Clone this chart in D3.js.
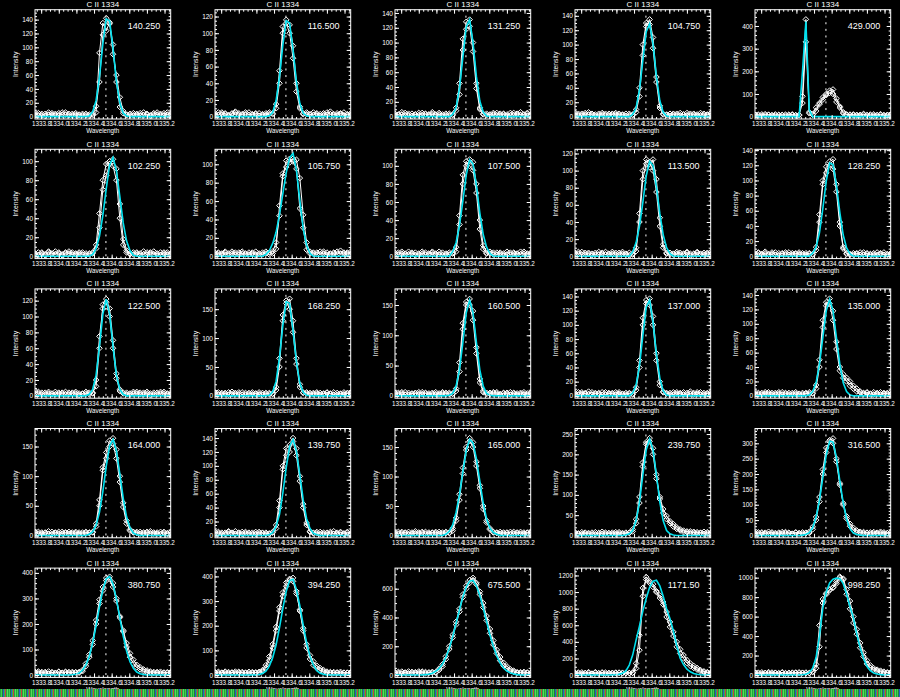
<!DOCTYPE html>
<html><head><meta charset="utf-8">
<script src="https://cdnjs.cloudflare.com/ajax/libs/d3/7.8.5/d3.min.js"></script>
<style>html,body{margin:0;padding:0;background:#000;}svg{display:block;}</style>
</head><body>
<svg id="chart" width="900" height="697"></svg>
<script>
const panelTitle = "C II 1334";
const xLabel = "Wavelength";
const yLabel = "Intensity";
const restWavelength = 1334.535;
const xDomain = [1333.73, 1335.27];
const xTickValues = [1333.8, 1334.0, 1334.2, 1334.4, 1334.6, 1334.8, 1335.0, 1335.2];
const xTickLabels = ["1333.8", "1334.0", "1334.2", "1334.4", "1334.6", "1334.8", "1335.0", "1335.2"];
const xMinorStep = 0.05;

const wavelengths = [1333.7300,1333.7685,1333.8070,1333.8455,1333.8840,1333.9225,1333.9610,1333.9995,1334.0380,1334.0765,
 1334.1150,1334.1535,1334.1920,1334.2305,1334.2690,1334.3075,1334.3460,1334.3845,1334.4230,1334.4615,
 1334.5000,1334.5385,1334.5770,1334.6155,1334.6540,1334.6925,1334.7310,1334.7695,1334.8080,1334.8465,
 1334.8850,1334.9235,1334.9620,1335.0005,1335.0390,1335.0775,1335.1160,1335.1545,1335.1930,1335.2315,1335.2700];

const peakLabels = ["140.250","116.500","131.250","104.750","429.000",
 "102.250","105.750","107.500","113.500","128.250",
 "122.500","168.250","160.500","137.000","135.000",
 "164.000","139.750","165.000","239.750","316.500",
 "380.750","394.250","675.500","1171.50","998.250"];

const yAxisMax = [154.3,128.2,144.4,148.5,471.9,
 112.5,116.3,118.3,124.9,141.1,
 134.8,185.1,176.6,150.7,148.5,
 180.4,153.7,181.5,263.7,348.2,
 418.8,433.7,743.1,1288.7,1098.1];

const yTickSteps = [20,20,20,20,100, 20,20,20,20,20, 20,50,50,20,20, 50,20,50,50,50, 100,100,200,200,200];
const yMinorSteps = [5,5,5,5,20, 5,5,5,5,5, 5,10,10,5,5, 10,5,10,10,10, 20,20,50,50,50];

// first observed spectrum of each panel
const observed = [
[3,5,2,4,6,3,2,5,3,6, 2,4,3,2,2,4,1,4,15,50, 118,142,134,104,50,14,5,2,4,2, 3,5,2,4,1,3,6,2,5,3, 4],
[4,2,5,3,1,4,6,2,3,5, 2,3,4,1,3,2,5,3,10,40, 100,116,110,85,40,12,4,3,2,5, 3,1,4,2,6,3,2,4,1,3, 2],
[2,3,6,2,4,1,3,5,2,4, 3,6,2,3,1,4,2,3,8,30, 90,128,131,100,45,12,4,2,3,5, 2,4,3,1,5,2,3,6,2,4, 3],
[5,2,4,3,6,2,1,4,3,2, 4,3,5,2,3,1,4,2,6,28, 85,125,135,110,55,15,4,3,1,4, 2,5,3,2,4,3,1,5,2,3, 4],
[6,9,4,11,7,5,10,6,8,4, 9,7,5,6,90,429,20,10,40,55, 85,100,115,120,80,40,15,8,6,10, 5,8,12,6,9,4,7,11,5,8, 6],
[3,1,4,2,5,3,2,4,1,3, 5,2,3,4,2,1,3,3,8,30, 70,85,97,102,92,55,18,6,2,4, 3,1,5,2,4,2,3,1,4,2, 3],
[2,4,3,5,1,3,4,2,5,3, 2,4,1,3,2,5,2,3,8,55, 90,97,102,106,105,85,45,15,5,3, 4,2,5,1,3,4,2,6,3,4, 2],
[4,2,5,3,2,4,1,3,5,2, 3,4,2,5,1,3,2,4,5,35, 80,100,107,104,80,40,12,4,3,2, 4,3,1,5,2,4,3,2,5,3, 4],
[3,5,2,4,3,1,4,2,3,5, 2,3,4,2,5,3,1,3,6,40, 90,108,104,113,90,45,14,4,2,3, 5,2,3,4,1,3,5,2,4,3, 2],
[2,4,3,6,2,3,5,1,4,3, 5,2,4,3,2,4,3,2,8,45, 95,110,125,128,95,45,12,4,3,2, 4,2,5,3,2,4,1,3,5,2, 3],
[6,3,4,2,5,3,2,4,3,5, 2,4,3,1,3,5,2,4,12,60, 115,122,110,70,28,8,3,4,2,3, 5,2,4,3,1,4,2,5,3,2, 4],
[4,6,3,5,2,7,4,3,6,2, 5,3,4,6,2,5,3,4,10,50, 130,160,168,130,65,20,6,4,5,3, 6,2,4,5,3,6,2,4,3,5, 4],
[3,5,4,6,2,4,5,3,6,4, 2,5,3,4,6,3,5,3,8,40, 110,150,160,140,80,28,8,5,3,6, 4,2,5,3,6,4,2,5,3,4, 5],
[4,2,5,3,6,2,4,3,1,5, 3,4,2,5,3,2,4,3,8,40, 100,130,137,112,60,20,6,3,4,2, 5,3,2,4,6,2,3,5,2,4, 3],
[3,4,2,5,3,2,4,5,2,3, 4,2,5,3,2,4,3,4,10,40, 95,125,135,118,75,40,25,20,14,10, 6,5,3,4,2,5,3,2,4,3, 5],
[4,6,3,5,7,2,4,6,3,5, 6,3,4,5,3,6,4,5,15,50, 110,130,150,164,145,100,55,25,10,5, 6,3,5,4,7,3,5,2,6,4, 5],
[3,5,2,4,6,3,2,4,5,3, 4,2,5,3,4,2,3,4,10,40, 95,115,120,140,125,85,45,18,6,4, 3,5,2,4,3,6,2,4,3,5, 2],
[5,3,6,4,2,5,7,3,4,6, 3,5,4,6,3,4,5,8,25,60, 105,145,165,158,125,85,50,22,10,5, 4,6,3,5,2,6,4,3,5,4, 6],
[6,3,8,5,4,7,3,6,9,4, 5,7,4,8,6,5,7,10,30,80, 170,225,240,215,150,90,55,40,30,22, 16,12,8,10,6,9,5,7,4,8, 6],
[8,5,10,6,12,7,4,9,6,11, 7,5,9,6,10,7,8,20,50,110, 200,270,310,316,250,170,100,55,30,18, 10,12,7,9,5,11,6,8,10,7, 9],
[10,14,8,12,6,11,9,13,7,10, 12,8,11,9,15,35,70,120,200,280, 330,370,385,360,300,230,170,110,70,45, 30,22,15,12,10,8,12,7,10,9, 8],
[12,8,10,14,7,11,9,13,8,10, 7,12,9,10,15,30,60,110,180,260, 320,360,385,394,340,260,180,110,65,40, 28,20,14,10,12,8,11,7,9,10, 8],
[15,22,12,18,25,14,20,16,24,13, 19,17,20,35,60,110,180,260,350,440, 540,600,640,675,630,560,470,380,290,210, 150,100,65,45,30,22,15,20,14,18, 16],
[20,30,15,25,35,18,28,22,32,16, 26,20,30,24,28,22,25,25,80,300, 950,1180,1130,1095,1010,930,850,700,580,470, 340,260,200,145,110,85,65,45,35,28, 22],
[18,25,14,22,30,16,24,19,27,15, 23,18,26,20,24,19,22,30,70,290, 780,840,870,900,960,1000,980,830,680,535, 420,280,190,115,75,55,42,35,28,22, 20]
];

// second (neighbouring) observed spectrum of each panel
const observedB = [
[5,2,4,1,3,5,4,2,6,3, 4,2,5,3,4,2,3,2,6,92, 135,124,136,90,60,28,8,3,2,5, 4,2,6,3,2,5,3,4,2,6, 3],
[2,5,3,4,2,3,5,4,2,3, 5,2,3,4,2,4,3,4,15,55, 108,112,100,70,30,10,3,5,3,2, 4,3,2,5,3,2,4,3,5,2, 4],
[4,2,3,5,2,4,3,2,5,3, 2,4,3,5,3,2,4,2,12,45, 105,118,122,88,38,10,3,4,2,3, 5,2,4,3,2,5,4,2,3,5, 2],
[3,4,2,5,3,4,3,2,5,4, 2,4,3,4,2,4,2,3,10,40, 100,130,128,95,48,12,3,2,4,3, 4,2,3,5,2,4,3,2,4,2, 5],
[8,5,10,6,9,7,5,8,6,9, 5,10,7,8,60,330,15,8,25,60, 75,95,105,100,65,45,20,10,9,6, 8,5,9,7,5,10,6,8,7,5, 9],
[2,4,3,1,4,2,5,3,2,4, 3,4,2,3,4,3,2,4,12,45, 80,97,100,95,80,40,12,4,3,2, 4,3,2,4,3,5,2,4,3,4, 2],
[4,3,2,4,3,5,2,4,3,2, 4,3,5,2,4,3,4,5,15,44, 87,104,106,103,95,52,31,7,3,4, 2,5,3,4,2,3,5,2,4,3, 5],
[2,4,3,2,5,3,4,2,3,4, 2,5,3,2,4,2,4,3,10,45, 90,105,100,95,70,30,8,3,5,4, 2,4,3,2,4,3,2,5,3,2, 3],
[4,3,5,2,4,3,2,5,4,2, 3,5,2,4,3,2,4,2,10,50, 100,113,110,100,75,35,10,3,4,2, 3,4,2,5,3,2,4,3,2,4, 5],
[3,5,2,4,3,5,2,4,3,5, 2,4,3,5,4,2,4,3,12,55, 100,118,120,115,85,40,10,3,2,4, 3,5,2,4,3,2,5,4,2,3, 4],
[3,5,2,4,3,2,5,3,4,2, 4,3,5,3,2,3,4,3,20,75, 110,118,100,60,22,6,4,2,3,5, 3,4,2,5,3,2,4,3,5,3, 2],
[6,3,5,4,6,3,5,6,2,5, 3,6,4,3,5,3,5,3,15,65, 140,165,150,110,55,15,5,6,3,5, 4,5,3,6,4,2,5,3,6,4, 5],
[5,3,6,2,5,3,4,6,3,5, 4,3,6,2,4,5,3,4,12,55, 120,155,150,125,70,22,6,3,5,4, 6,3,4,5,2,5,4,3,6,2, 4],
[2,5,3,4,2,5,3,4,5,2, 4,3,5,3,2,4,3,2,12,50, 110,135,128,100,50,15,5,4,2,5, 3,4,5,2,3,4,5,2,4,3, 5],
[5,2,4,3,5,4,2,3,5,4, 2,4,3,2,4,3,5,3,15,50, 105,130,128,105,65,35,30,25,20,14, 10,6,4,5,3,2,4,5,3,4, 2],
[6,3,5,4,2,6,5,3,6,4, 3,5,6,3,5,4,5,6,20,60, 115,140,160,155,130,90,48,20,8,6, 4,6,3,6,4,5,3,6,4,3, 6],
[5,3,4,2,5,4,6,3,2,5, 3,4,2,5,3,4,2,5,15,50, 100,125,130,135,115,78,40,15,5,3, 5,2,4,3,5,2,4,5,2,4, 3],
[3,6,4,5,6,3,4,5,6,3, 5,4,6,3,5,6,4,12,30,70, 115,150,160,150,118,80,45,25,12,6, 5,3,5,4,6,3,5,6,3,5, 4],
[8,5,4,7,6,3,8,5,4,7, 6,4,8,5,4,7,6,15,40,95, 180,230,232,200,140,95,65,48,35,28, 20,15,12,8,10,7,8,6,9,5, 7],
[6,10,7,9,5,10,8,6,11,7, 9,6,10,8,6,9,12,28,60,125, 215,285,305,300,240,165,105,62,38,25, 16,9,11,8,10,6,9,12,6,8, 10],
[13,9,12,8,14,10,7,12,9,13, 8,12,10,12,20,45,80,135,215,295, 345,380,375,345,290,225,175,125,85,60, 40,30,22,18,14,12,9,13,8,11, 12],
[9,13,8,11,12,9,14,10,12,8, 13,9,11,13,20,40,75,125,195,275, 335,375,390,380,330,265,190,125,80,55, 38,28,20,14,9,12,9,13,10,8, 11],
[20,14,24,16,12,22,15,25,18,21, 14,22,16,45,75,130,200,280,370,460, 560,620,660,660,640,580,500,410,320,240, 175,125,85,60,40,30,20,15,22,16, 12],
[28,18,32,22,26,15,34,20,24,30, 18,27,22,30,20,28,24,30,140,480, 1050,1150,1110,1060,1000,960,880,760,640,520, 400,310,240,180,140,110,85,60,45,35, 30],
[24,15,28,20,18,26,21,16,25,20, 17,25,21,28,22,26,20,35,110,510, 740,829,880,897,940,1010,990,880,760,600, 470,330,230,150,100,70,55,45,35,28, 25]
];

const fitted = [
[0,0,0,0,0,0,0,0,0,0, 0,0,0,0,0,0,1,7,23,57, 105,141,138,98,51,20,5,1,0,0, 0,0,0,0,0,0,0,0,0,0, 0],
[0,0,0,0,0,0,0,0,0,0, 0,0,0,0,0,0,1,5,19,47, 86,115,112,80,42,16,4,1,0,0, 0,0,0,0,0,0,0,0,0,0, 0],
[0,0,0,0,0,0,0,0,0,0, 0,0,0,0,0,0,0,3,12,38, 80,121,131,100,54,21,6,1,0,0, 0,0,0,0,0,0,0,0,0,0, 0],
[0,0,0,0,0,0,0,0,0,0, 0,0,0,0,0,0,0,3,12,37, 78,118,129,101,56,22,6,1,0,0, 0,0,0,0,0,0,0,0,0,0, 0],
[0,0,0,0,0,0,0,0,0,0, 0,0,0,0,200,420,30,0,0,0, 0,0,0,0,0,0,0,0,0,0, 0,0,0,0,0,0,0,0,0,0, 0],
[0,0,0,0,0,0,0,0,0,0, 0,0,0,0,0,0,0,2,8,21, 43,71,96,104,90,63,35,16,6,1, 0,0,0,0,0,0,0,0,0,0, 0],
[0,0,0,0,0,0,0,0,0,0, 0,0,0,0,0,2,6,14,26,45, 68,91,107,112,94,61,30,12,3,0, 0,0,0,0,0,0,0,0,0,0, 0],
[0,0,0,0,0,0,0,0,0,0, 0,0,0,0,0,0,0,5,15,34, 61,90,107,102,78,48,24,10,3,0, 0,0,0,0,0,0,0,0,0,0, 0],
[0,0,0,0,0,0,0,0,0,0, 0,0,0,0,0,0,0,5,16,35, 63,94,111,106,81,50,25,10,3,0, 0,0,0,0,0,0,0,0,0,0, 0],
[0,0,0,0,0,0,0,0,0,0, 0,0,0,0,0,0,0,4,12,31, 63,99,123,121,94,58,28,11,3,0, 0,0,0,0,0,0,0,0,0,0, 0],
[0,0,0,0,0,0,0,0,0,0, 0,0,0,0,0,0,2,8,26,62, 103,122,103,62,26,8,2,0,0,0, 0,0,0,0,0,0,0,0,0,0, 0],
[0,0,0,0,0,0,0,0,0,0, 0,0,0,0,0,0,1,7,25,66, 122,163,160,113,59,22,6,1,0,0, 0,0,0,0,0,0,0,0,0,0, 0],
[0,0,0,0,0,0,0,0,0,0, 0,0,0,0,0,0,1,4,16,43, 88,137,158,137,88,43,16,4,1,0, 0,0,0,0,0,0,0,0,0,0, 0],
[0,0,0,0,0,0,0,0,0,0, 0,0,0,0,0,0,0,4,15,42, 85,125,135,104,59,25,7,1,0,0, 0,0,0,0,0,0,0,0,0,0, 0],
[0,0,0,0,0,0,0,0,0,0, 0,0,0,0,0,0,1,6,18,44, 81,118,134,118,81,44,18,6,1,0, 0,0,0,0,0,0,0,0,0,0, 0],
[0,0,0,0,0,0,0,0,0,0, 0,0,0,0,0,0,2,6,17,39, 74,117,151,162,143,104,63,31,13,4, 1,0,0,0,0,0,0,0,0,0, 0],
[0,0,0,0,0,0,0,0,0,0, 0,0,0,0,0,0,1,4,13,30, 61,98,128,138,121,87,51,24,10,3, 1,0,0,0,0,0,0,0,0,0, 0],
[0,0,0,0,0,0,0,0,0,0, 0,0,0,0,0,2,7,18,39,69, 108,144,163,157,130,92,55,28,12,5, 2,0,0,0,0,0,0,0,0,0, 0],
[0,0,0,0,0,0,0,0,0,0, 0,0,0,0,0,1,4,12,36,82, 149,211,238,211,149,82,36,12,4,1, 0,0,0,0,0,0,0,0,0,0, 0],
[0,0,0,0,0,0,0,0,0,0, 0,0,0,0,1,3,9,25,59,115, 189,262,307,304,253,178,106,53,22,8, 3,1,0,0,0,0,0,0,0,0, 0],
[0,0,0,0,0,0,0,0,0,0, 0,1,3,8,19,39,73,126,193,267, 333,377,386,356,298,224,153,94,52,26, 12,5,2,0,0,0,0,0,0,0, 0],
[0,0,0,0,0,0,0,0,0,0, 0,0,0,2,6,16,36,70,122,191, 270,340,383,388,347,281,203,131,76,40, 18,7,3,0,0,0,0,0,0,0, 0],
[0,0,0,0,0,0,0,0,0,3, 6,13,26,45,77,123,186,265,359,454, 543,612,652,658,619,553,467,372,276,198, 132,84,49,28,15,7,3,0,0,0, 0],
[0,0,0,0,0,0,0,0,0,0, 0,0,3,8,20,50,120,240,420,590, 770,926,1058,1132,1142,1074,949,800,680,530, 350,202,126,71,39,19,9,4,0,0, 0],
[0,0,0,0,0,0,0,0,0,0, 0,0,0,0,3,8,25,70,180,400, 690,850,945,985,995,990,940,830,700,590, 420,280,170,90,45,20,10,4,0,0, 0]
];

const stripeColors = ["#22a83a","#3fcf4f","#1e7f3a","#2c58c8","#33b844","#c84040","#26a63c","#5ad85a"];

const svg = d3.select("#chart");
svg.append("rect").attr("width", 900).attr("height", 697).attr("fill", "#000");

const COLW = 180, ROWH = 139.6, BL = 35, BT = 9.7, BW = 135.7, BH = 109.3;
const FONT = "'Liberation Sans', Arial, sans-serif";
const CYAN = "#00e0ee";
const diamond = "M0,-2.8L2.8,0L0,2.8L-2.8,0Z";

function styleAxis(sel, fs) {
  sel.select(".domain").remove();
  sel.selectAll("line").attr("stroke", "#fff").attr("stroke-width", 1);
  sel.attr("font-family", FONT).attr("font-size", fs);
  sel.selectAll("text").attr("fill", "#fff");
}

peakLabels.forEach((lab, i) => {
  const col = i % 5, row = Math.floor(i / 5);
  const x0 = BL + col * COLW, y0 = BT + row * ROWH, x1 = x0 + BW, y1 = y0 + BH;
  const ymax = yAxisMax[i], ymin = -0.022 * ymax;
  const x = d3.scaleLinear().domain(xDomain).range([x0, x1]);
  const y = d3.scaleLinear().domain([ymin, ymax]).range([y1, y0]);
  const g = svg.append("g");
  const clipId = "clip" + i;
  g.append("clipPath").attr("id", clipId).append("rect")
    .attr("x", x0).attr("y", y0).attr("width", BW).attr("height", BH);
  const plot = g.append("g").attr("clip-path", `url(#${clipId})`);

  plot.append("line")
    .attr("x1", x(restWavelength)).attr("x2", x(restWavelength))
    .attr("y1", y(0)).attr("y2", y(0.95 * ymax))
    .attr("stroke", "#fff").attr("stroke-width", 1).attr("stroke-dasharray", "2,4.6");

  const line = d3.line().x((d, k) => x(wavelengths[k])).y(d => y(d));
  [observedB[i], observed[i]].forEach((series, si) => {
    plot.append("path").attr("d", line(series))
      .attr("fill", "none").attr("stroke", "#fff").attr("stroke-width", 1);
    plot.selectAll("path.dm" + si).data(series).join("path").attr("class", "dm" + si)
      .attr("d", diamond)
      .attr("transform", (d, k) => `translate(${x(wavelengths[k])},${y(d)})`)
      .attr("fill", "none").attr("stroke", "#fff").attr("stroke-width", 1);
  });
  plot.append("path").attr("d", line(fitted[i]))
    .attr("fill", "none").attr("stroke", CYAN).attr("stroke-width", 1.6);

  g.append("rect").attr("x", x0).attr("y", y0).attr("width", BW).attr("height", BH)
    .attr("fill", "none").attr("stroke", "#fff").attr("stroke-width", 1);

  const yTicks = d3.range(0, ymax + 1e-9, yTickSteps[i]);
  const yMinor = d3.range(0, ymax + 1e-9, yMinorSteps[i]);
  const xMinor = d3.range(1333.75, 1335.2501, xMinorStep);

  g.append("g").attr("transform", `translate(0,${y1})`)
    .call(d3.axisBottom(x).tickValues(xTickValues).tickFormat((d, j) => xTickLabels[j])
      .tickSizeInner(-4).tickSizeOuter(0).tickPadding(3))
    .call(s => styleAxis(s, 6.3));
  g.append("g").attr("transform", `translate(0,${y1})`)
    .call(d3.axisBottom(x).tickValues(xMinor).tickFormat("").tickSizeInner(-2).tickSizeOuter(0))
    .call(s => styleAxis(s, 6));
  g.append("g").attr("transform", `translate(0,${y0})`)
    .call(d3.axisTop(x).tickValues(xTickValues).tickFormat("").tickSizeInner(-4).tickSizeOuter(0))
    .call(s => styleAxis(s, 6));
  g.append("g").attr("transform", `translate(0,${y0})`)
    .call(d3.axisTop(x).tickValues(xMinor).tickFormat("").tickSizeInner(-2).tickSizeOuter(0))
    .call(s => styleAxis(s, 6));

  g.append("g").attr("transform", `translate(${x0},0)`)
    .call(d3.axisLeft(y).tickValues(yTicks).tickFormat(d3.format("d"))
      .tickSizeInner(-4).tickSizeOuter(0).tickPadding(2))
    .call(s => styleAxis(s, 6.5));
  g.append("g").attr("transform", `translate(${x0},0)`)
    .call(d3.axisLeft(y).tickValues(yMinor).tickFormat("").tickSizeInner(-2).tickSizeOuter(0))
    .call(s => styleAxis(s, 6));
  g.append("g").attr("transform", `translate(${x1},0)`)
    .call(d3.axisRight(y).tickValues(yTicks).tickFormat("").tickSizeInner(-4).tickSizeOuter(0))
    .call(s => styleAxis(s, 6));
  g.append("g").attr("transform", `translate(${x1},0)`)
    .call(d3.axisRight(y).tickValues(yMinor).tickFormat("").tickSizeInner(-2).tickSizeOuter(0))
    .call(s => styleAxis(s, 6));

  g.append("text").text(panelTitle)
    .attr("x", (x0 + x1) / 2).attr("y", y0 - 2.5).attr("text-anchor", "middle")
    .attr("fill", "#fff").attr("font-family", FONT).attr("font-size", 8);
  g.append("text").text(lab)
    .attr("x", x0 + 92.7).attr("y", y0 + 19.6)
    .attr("fill", "#fff").attr("font-family", FONT).attr("font-size", 9);
  g.append("text").text(xLabel)
    .attr("x", (x0 + x1) / 2).attr("y", y1 + 14.3).attr("text-anchor", "middle")
    .attr("fill", "#fff").attr("font-family", FONT).attr("font-size", 6.3);
  g.append("text").text(yLabel)
    .attr("transform", `translate(${x0 - 17.5},${(y0 + y1) / 2}) rotate(-90)`)
    .attr("text-anchor", "middle")
    .attr("fill", "#fff").attr("font-family", FONT).attr("font-size", 6.8);
});

const stripe = svg.append("g");
stripe.selectAll("rect").data(d3.range(900)).join("rect")
  .attr("x", d => d).attr("y", 689).attr("width", 1).attr("height", 8)
  .attr("fill", d => stripeColors[d % stripeColors.length]);
</script>
</body></html>
